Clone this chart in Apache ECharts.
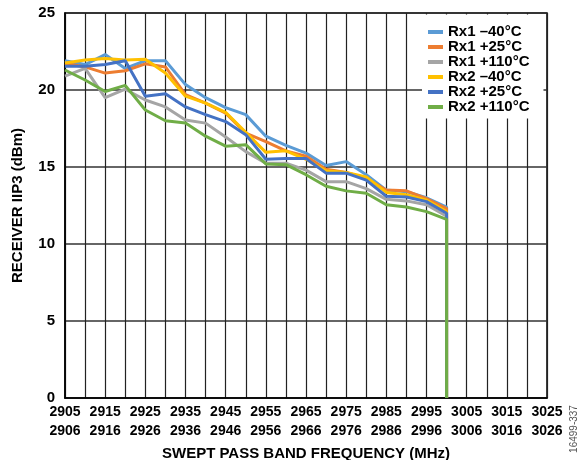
<!DOCTYPE html>
<html>
<head>
<meta charset="utf-8">
<script src="https://cdn.jsdelivr.net/npm/echarts@6/dist/echarts.min.js"></script>
<style>
html,body{margin:0;padding:0;background:#fff;}
#chart{width:582px;height:460px;}
</style>
</head>
<body>
<div id="chart"></div>
<script>
// Frequencies (MHz) of the measured points
var freqs = [2905, 2910, 2915, 2920, 2925, 2930, 2935, 2940, 2945, 2950,
             2955, 2960, 2965, 2970, 2975, 2980, 2985, 2990, 2995, 3000];
// End-of-band drop value at the last frequency
var dropValue = 0;

var seriesNames = ['Rx1 \u201340\u00B0C', 'Rx1 +25\u00B0C', 'Rx1 +110\u00B0C',
                   'Rx2 \u201340\u00B0C', 'Rx2 +25\u00B0C', 'Rx2 +110\u00B0C'];

var rx1m40  = [21.9, 21.65, 22.3, 21.4, 21.9, 21.9, 20.35, 19.5, 18.86, 18.4, 17.0, 16.4, 15.9, 15.1, 15.35, 14.5, 13.5, 13.4, 13.0, 12.4];
var rx1p25  = [21.74, 21.5, 21.1, 21.25, 21.7, 21.5, 19.7, 19.15, 18.5, 17.2, 16.65, 16.05, 15.7, 14.85, 14.65, 14.25, 13.5, 13.45, 12.95, 12.3];
var rx1p110 = [20.9, 21.4, 19.5, 20.05, 19.35, 18.9, 18.05, 17.85, 16.95, 16.0, 15.25, 15.25, 14.8, 14.05, 14.05, 13.6, 12.9, 12.8, 12.55, 11.8];
var rx2m40  = [21.75, 21.95, 22.05, 21.95, 22.0, 21.1, 19.6, 19.15, 18.55, 17.25, 15.95, 16.05, 15.5, 14.75, 14.65, 14.35, 13.35, 13.2, 12.85, 12.1];
var rx2p25  = [21.55, 21.55, 21.65, 21.9, 19.6, 19.75, 18.9, 18.4, 17.95, 17.1, 15.5, 15.55, 15.55, 14.6, 14.6, 14.15, 13.1, 13.05, 12.75, 12.0];
var rx2p110 = [21.3, 20.65, 19.9, 20.3, 18.7, 18.0, 17.85, 17.0, 16.35, 16.45, 15.2, 15.15, 14.5, 13.75, 13.45, 13.3, 12.55, 12.4, 12.1, 11.6];

var xTickLabels = ['2905\n2906', '2915\n2916', '2925\n2926', '2935\n2936', '2945\n2946',
                   '2955\n2956', '2965\n2966', '2975\n2976', '2985\n2986', '2995\n2996',
                   '3005\n3006', '3015\n3016', '3025\n3026'];
var yTickValues = [0, 5, 10, 15, 20, 25];

var colors = ['#5B9BD5', '#ED7D31', '#A5A5A5', '#FFC000', '#4472C4', '#70AD47'];
var allValues = [rx1m40, rx1p25, rx1p110, rx2m40, rx2p25, rx2p110];

function buildData(vals) {
  var d = freqs.map(function (f, i) { return [f, vals[i]]; });
  d.push([freqs[freqs.length - 1], dropValue]);
  return d;
}

var FONT = '"Liberation Sans", Arial, sans-serif';

var chart = echarts.init(document.getElementById('chart'), null, {renderer: 'canvas'});
chart.setOption({
  animation: false,
  backgroundColor: '#fff',
  color: colors,
  grid: {
    left: 65, right: 35, top: 13, bottom: 62,
    show: true, borderColor: '#000', borderWidth: 1.5,
    containLabel: false, outerBoundsMode: 'none'
  },
  legend: {
    orient: 'vertical',
    left: 422, top: 14.5,
    padding: [10, 14, 4, 6],
    backgroundColor: '#fff',
    itemGap: 0,
    itemWidth: 15, itemHeight: 4,
    icon: 'rect',
    textStyle: {fontFamily: FONT, fontWeight: 'bold', fontSize: 15, color: '#000', lineHeight: 15},
    data: seriesNames
  },
  xAxis: {
    type: 'value',
    min: 2905, max: 3025, interval: 5,
    name: 'SWEPT PASS BAND FREQUENCY (MHz)',
    nameLocation: 'middle', nameGap: 47,
    nameTextStyle: {fontFamily: FONT, fontWeight: 'bold', fontSize: 15, color: '#000'},
    axisLine: {show: true, lineStyle: {color: '#000', width: 1.5}},
    axisTick: {show: false},
    splitLine: {show: true, lineStyle: {color: '#222', width: 1.2}},
    axisLabel: {
      fontFamily: FONT, fontWeight: 'bold', fontSize: 14, color: '#000', lineHeight: 19, margin: 5,
      formatter: function (v) {
        var k = (v - 2905) / 10;
        if (Math.abs(k - Math.round(k)) < 1e-6) { return xTickLabels[Math.round(k)] || ''; }
        return '';
      }
    }
  },
  yAxis: {
    type: 'value',
    min: 0, max: 25, interval: 5,
    name: 'RECEIVER IIP3 (dBm)',
    nameLocation: 'middle', nameGap: 40,
    nameTextStyle: {fontFamily: FONT, fontWeight: 'bold', fontSize: 15, color: '#000'},
    axisLine: {show: true, lineStyle: {color: '#000', width: 1.5}},
    axisTick: {show: false},
    splitLine: {show: true, lineStyle: {color: '#333', width: 1.5}},
    axisLabel: {
      fontFamily: FONT, fontWeight: 'bold', fontSize: 15, color: '#000', margin: 10,
      formatter: function (v) { return yTickValues.indexOf(v) >= 0 ? String(v) : ''; }
    }
  },
  series: seriesNames.map(function (n, i) {
    return {
      name: n, type: 'line', data: buildData(allValues[i]),
      showSymbol: false, symbol: 'none',
      lineStyle: {width: 3, color: colors[i]},
      itemStyle: {color: colors[i]},
      z: 2 + i
    };
  }),
  graphic: [{
    type: 'text', x: 574, y: 429, rotation: Math.PI / 2,
    style: {text: '16499-337', font: '10px ' + FONT, fill: '#555', align: 'center', verticalAlign: 'middle'}
  }]
});
</script>
</body>
</html>
